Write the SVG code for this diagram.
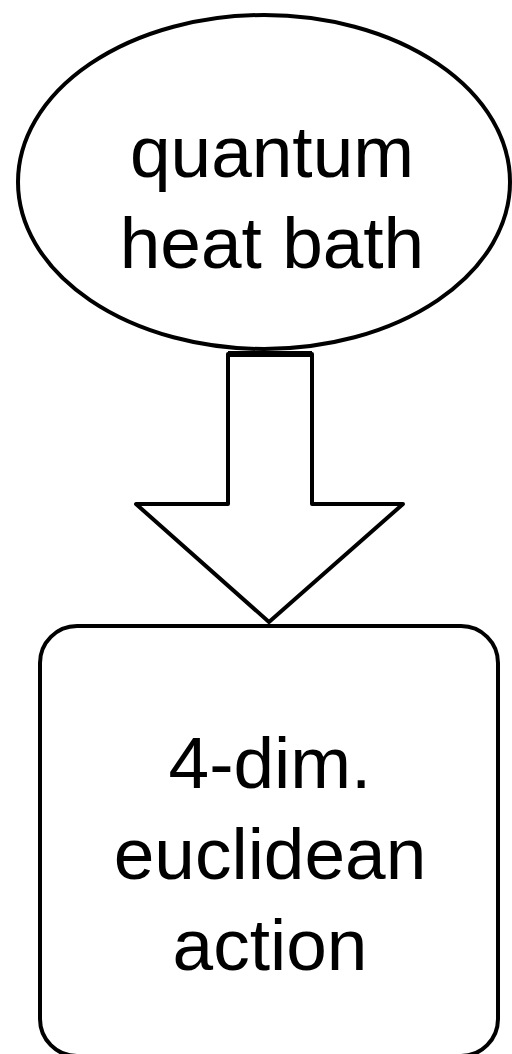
<svg xmlns="http://www.w3.org/2000/svg" width="512" height="1054" viewBox="0 0 512 1054">
<style>
.shape{fill:#fff;stroke:#000;stroke-width:4;stroke-linejoin:round}
.lbl{font-family:"Liberation Sans",Arial,sans-serif;font-size:73px;fill:#000;text-anchor:middle}
</style>
<rect width="512" height="1054" fill="#fff"/>
<g id="connectors">
<polygon class="shape" points="228,354 312,354 312,504 403,504 269,622 136,504 228,504"/>
<line x1="228" y1="354" x2="312" y2="354" stroke="#000" stroke-width="6"/>
</g>
<g id="node-heat-bath">
<ellipse class="shape" cx="264" cy="182" rx="246" ry="167"/>
<text class="lbl" x="272" y="177">quantum</text>
<text class="lbl" x="272" y="268">heat bath</text>
</g>
<g id="node-action">
<rect class="shape" x="40" y="626" width="458" height="430" rx="37" ry="37"/>
<text class="lbl" x="270" y="788">4-dim.</text>
<text class="lbl" x="270" y="879">euclidean</text>
<text class="lbl" x="270" y="970">action</text>
</g>
</svg>
